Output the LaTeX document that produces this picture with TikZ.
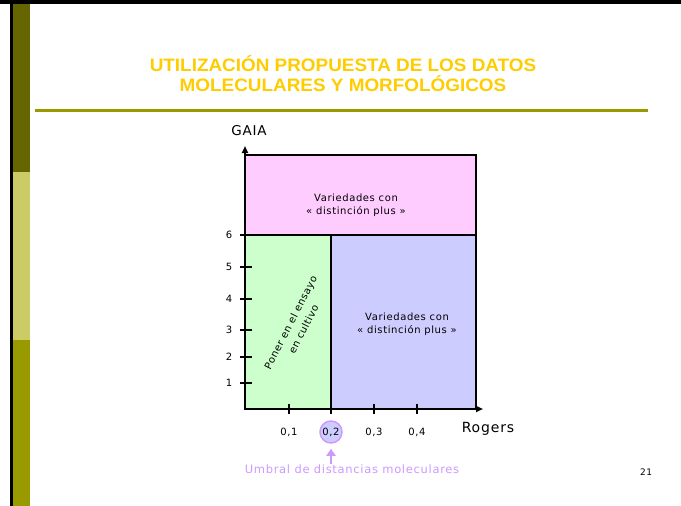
\documentclass[tikz,border=0pt]{standalone}
\usepackage{fontspec}
\setmainfont[LetterSpace=6]{DejaVu Sans}
\newfontfamily\fuentetitulo[FakeStretch=1.05]{Liberation Sans}
\usetikzlibrary{arrows.meta,positioning}

\definecolor{olivaoscuro}{HTML}{666600}
\definecolor{olivaclaro}{HTML}{CCCC66}
\definecolor{olivamedio}{HTML}{999900}
\definecolor{amarillotitulo}{HTML}{FFCC00}
\definecolor{rosa}{HTML}{FFCCFF}
\definecolor{verde}{HTML}{CCFFCC}
\definecolor{azul}{HTML}{CCCCFF}
\definecolor{lila}{HTML}{CC99FF}

\tikzset{
  zona/.style={draw=black, line width=1.5pt},
  eje/.style={line width=2pt, -{Triangle[length=7pt,width=6pt]}},
  marca/.style={line width=2pt},
  etiqueta/.style={font=\fontsize{10}{12.5}\selectfont, align=center, inner sep=0pt},
}

\begin{document}
\begin{tikzpicture}[x=1pt,y=-1pt]
        % Paso 1: Fija el tamaño de la diapositiva
        \useasboundingbox (0,0) rectangle (681,506);

        % Paso 2: Dibuja el marco y la franja lateral
        \fill[black] (0,0) rectangle (681,4);
        \fill[black] (10,0) rectangle (13,506);
        \fill[olivaoscuro] (13,4) rectangle (30,172);
        \fill[olivaclaro] (13,172) rectangle (30,340);
        \fill[olivamedio] (13,340) rectangle (30,506);

        % Paso 3: Titulo y linea de separacion
        \node[font=\fuentetitulo\bfseries\fontsize{18}{20}\selectfont,
            text=amarillotitulo, align=center] (titulo) at (343,74)
            {UTILIZACIÓN PROPUESTA DE LOS DATOS\\MOLECULARES Y MORFOLÓGICOS};
        \fill[olivamedio] (35,109) rectangle (648,112);

        % Paso 4: Define puntos de los ejes
        \coordinate (O) at (245,409); % origen
        \coordinate (Y) at (245,146); % punta eje GAIA
        \coordinate (X) at (483,409); % punta eje Rogers

        % Paso 5: Rellena las tres zonas
        \filldraw[zona, fill=rosa] (245,155) rectangle (476,235);
        \filldraw[zona, fill=verde] (245,235) rectangle (331,409);
        \filldraw[zona, fill=azul] (331,235) rectangle (476,409);

        % Paso 6: Dibuja los ejes y sus marcas
        \draw[eje] (O) -- (Y);
        \draw[eje] (O) -- (X);
        \foreach \n/\y in {6/235,5/267,4/299,3/330,2/357,1/383} {
            \draw[marca] (240,\y) -- (252,\y);
            \node[etiqueta] (gaia\n) at (229,\y) {\n};
        }
        \foreach \x in {289,331,374,417}
            \draw[marca] (\x,404) -- (\x,414);

        % Paso 7: Etiquetas de los ejes
        \node[font=\fontsize{13.5}{15}\selectfont] (gaia) at (249,131) {GAIA};
        \node[font=\fontsize{14}{16}\selectfont] (rogers) at (488,429) {Rogers};
        \node[etiqueta] (rog1) at (289,432) {0,1};
        \node[etiqueta, circle, fill=azul, draw=lila, line width=1.5pt,
            minimum size=22pt] (rog2) at (331,432) {0,2};
        \node[etiqueta] (rog3) at (374,432) {0,3};
        \node[etiqueta] (rog4) at (417,432) {0,4};

        % Paso 8: Textos de las zonas
        \node[etiqueta] (varsup) at (356,205)
            {Variedades con\\« distinción plus »};
        \node[etiqueta] (varinf) at (407,324)
            {Variedades con\\« distinción plus »};
        \node[etiqueta, font=\fontsize{10}{14.5}\selectfont, rotate=63]
            (poner) at (297,326) {Poner en el ensayo\\en cultivo};

        % Paso 9: Umbral y flecha
        \node[etiqueta, text=lila, font=\fontsize{11.5}{14}\selectfont,
            anchor=base] (umbral) at (352,473.5)
            {Umbral de distancias moleculares};
        \draw[lila, line width=2pt, -{Triangle[length=7pt,width=9pt]},
            shorten <=1pt, shorten >=5pt] (umbral.north -| rog2) -- (rog2.south);

        % Paso 10: Numero de diapositiva
        \node[font=\fontsize{9}{11}\selectfont] (pagina) at (646,472) {21};
\end{tikzpicture}
\end{document}
